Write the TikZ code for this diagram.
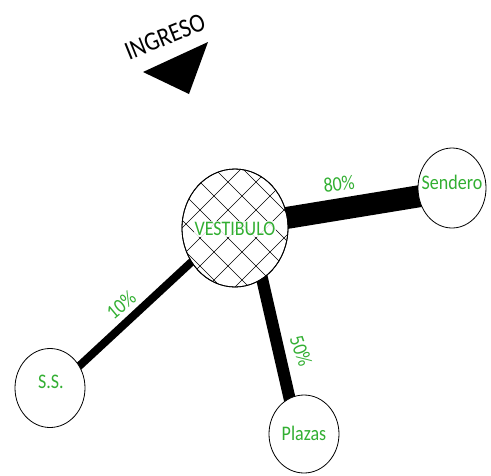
\documentclass[tikz,border=0pt]{standalone}
\usepackage{fontspec}
\usepackage{graphicx}
\setmainfont{Carlito}
\usetikzlibrary{shapes.geometric}
\pgfdeclarelayer{bg}
\pgfsetlayers{bg,main}
\definecolor{lbl}{RGB}{50,175,50}
\newcommand{\tall}[1]{\scalebox{1}[1.15]{#1}}
\tikzset{
  room/.style={ellipse, draw=black, line width=0.8pt, fill=white, inner sep=0pt},
  lbltext/.style={text=lbl, font=\fontsize{18}{20}\selectfont, inner sep=1pt},
  link/.style={line width=#1, draw=black, shorten <=-4pt, shorten >=-4pt},
}
\begin{document}
\begin{tikzpicture}[x=1pt,y=-1pt]
\useasboundingbox (0,0) rectangle (491,475);
% rooms
\node[room, minimum width=106pt, minimum height=118pt] (V) at (235,228) {};
\begin{scope}
  \clip (235,228) ellipse [x radius=53pt, y radius=59pt];
  \foreach \k in {-6,...,6} {
    \draw[line width=0.5pt] (242+28*\k-90,168-90) -- (242+28*\k+150,168+150);
    \draw[line width=0.5pt] (242+28*\k+90,168-90) -- (242+28*\k-150,168+150);
  }
\end{scope}
\draw[line width=0.8pt] (235,228) ellipse [x radius=53pt, y radius=59pt];
\node[lbltext, fill=white, fill opacity=0.85, text opacity=1] (Vt) at (235,229) {\tall{VESTIBULO}};
\node[room, minimum width=68pt, minimum height=80pt] (S) at (452,188) {};
\node[lbltext] (St) at (452,182) {\tall{Sendero}};
\node[room, minimum width=70pt, minimum height=79pt] (SS) at (50,388) {};
\node[lbltext] (SSt) at (51,382) {\tall{S.S.}};
\node[room, minimum width=70pt, minimum height=78pt] (P) at (304,434) {};
\node[lbltext] (Pt) at (304,433) {\tall{Plazas}};
% connectors
\begin{pgfonlayer}{bg}
  \draw[link=22pt] (V.11) -- (S.194);
  \draw[link=8pt] (V.218) -- (SS.37);
  \draw[link=12pt] (V.-62) -- (P.112);
\end{pgfonlayer}
% percentages
\node[lbltext, rotate=6] (p80) at (339,184) {\tall{80\%}};
\node[lbltext, rotate=40] (p10) at (121,305) {\tall{10\%}};
\node[lbltext, rotate=-71] (p50) at (301,351) {\tall{50\%}};
% entrance
\node[font=\fontsize{23}{25}\selectfont, rotate=22, inner sep=1pt] (ing) at (165,37) {\tall{INGRESO}};
\coordinate (t1) at (143,72);
\coordinate (t2) at (208,42);
\coordinate (t3) at (189,94);
\fill[black] (t1) -- (t2) -- (t3) -- cycle;
\end{tikzpicture}
\end{document}
